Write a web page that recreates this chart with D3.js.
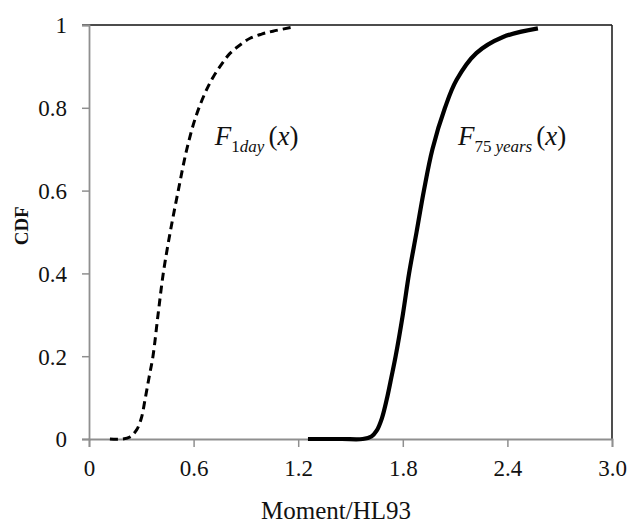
<!DOCTYPE html>
<html>
<head>
<meta charset="utf-8">
<script src="https://cdn.jsdelivr.net/npm/d3@7"></script>
<style>
  body { margin: 0; background: #fff; }
  svg { display: block; }
</style>
</head>
<body>
<svg id="chart" width="629" height="523" font-family="Liberation Serif, Times New Roman, serif"></svg>
<script>
// Tick values and labels
var xTicks = [0, 0.6, 1.2, 1.8, 2.4, 3.0];
var xTickLabels = ['0', '0.6', '1.2', '1.8', '2.4', '3.0'];
var yTicks = [0, 0.2, 0.4, 0.6, 0.8, 1];
var yTickLabels = ['0', '0.2', '0.4', '0.6', '0.8', '1'];

// F_1day(x)
var oneDayX = [0.12, 0.19, 0.235, 0.273, 0.30, 0.321, 0.345, 0.367, 0.396, 0.426, 0.466, 0.512, 0.56, 0.61, 0.665, 0.712, 0.76, 0.81, 0.87, 0.924, 0.99, 1.055, 1.17];
var oneDayY = [0, 0, 0.005, 0.022, 0.05, 0.094, 0.15, 0.2, 0.3, 0.4, 0.5, 0.6, 0.698, 0.775, 0.835, 0.874, 0.905, 0.932, 0.953, 0.968, 0.978, 0.985, 0.995];

// F_75years(x)
var yearsX = [1.256, 1.45, 1.57, 1.62, 1.65, 1.68, 1.707, 1.735, 1.759, 1.80, 1.836, 1.879, 1.921, 1.97, 2.042, 2.108, 2.222, 2.375, 2.575];
var yearsY = [0, 0, 0, 0.006, 0.02, 0.05, 0.094, 0.15, 0.2, 0.3, 0.4, 0.5, 0.6, 0.7, 0.8, 0.867, 0.932, 0.971, 0.992];

var margin = {top: 25, right: 17, bottom: 84, left: 89};
var width = 629 - margin.left - margin.right;
var height = 523 - margin.top - margin.bottom;
var serif = 'Liberation Serif, Times New Roman, serif';

var svg = d3.select('#chart');
var g = svg.append('g')
    .attr('transform', 'translate(' + margin.left + ',' + margin.top + ')');

var x = d3.scaleLinear().domain([0, 3.0]).range([0, width]);
var y = d3.scaleLinear().domain([0, 1]).range([height, 0]);

var axisGrey = '#8f8f8f';

// Frame: top and right edges are black
g.append('line')
    .attr('x1', -7).attr('x2', width)
    .attr('y1', y(1)).attr('y2', y(1))
    .style('stroke', '#111').style('stroke-width', 1.6);
g.append('line')
    .attr('x1', width).attr('x2', width)
    .attr('y1', y(1)).attr('y2', height)
    .style('stroke', '#222').style('stroke-width', 1.6);

// Axes
var xAxis = g.append('g')
    .attr('transform', 'translate(0,' + height + ')')
    .call(d3.axisBottom(x)
        .tickValues(xTicks)
        .tickFormat(function(d, i) { return xTickLabels[i]; })
        .tickSizeOuter(0)
        .tickSize(8));
var yAxis = g.append('g')
    .call(d3.axisLeft(y)
        .tickValues(yTicks)
        .tickFormat(function(d, i) { return yTickLabels[i]; })
        .tickSizeOuter(0)
        .tickSize(7));

[xAxis, yAxis].forEach(function(ax) {
  ax.attr('font-family', serif).attr('font-size', 23);
  ax.select('.domain').style('stroke', axisGrey).style('stroke-width', 1.8);
  ax.selectAll('.tick line').style('stroke', axisGrey).style('stroke-width', 1.5);
  ax.selectAll('.tick text')
      .attr('font-family', serif)
      .style('fill', '#111');
});
xAxis.selectAll('.tick text').attr('y', 37).attr('dy', null);
yAxis.selectAll('.tick text').attr('x', -22).attr('dy', '0.34em');

// Curves
var line = d3.line()
    .x(function(d) { return x(d[0]); })
    .y(function(d) { return y(d[1]); })
    .curve(d3.curveCatmullRom.alpha(0.5));

g.append('path')
    .datum(d3.zip(oneDayX, oneDayY))
    .attr('d', line)
    .style('fill', 'none')
    .style('stroke', '#000')
    .style('stroke-width', 3)
    .style('stroke-dasharray', '8,5');

g.append('path')
    .datum(d3.zip(yearsX, yearsY))
    .attr('d', line)
    .style('fill', 'none')
    .style('stroke', '#000')
    .style('stroke-width', 4.2)
    .style('stroke-linecap', 'butt');

// Curve labels
function curveLabel(px, py, sub) {
  var t = g.append('text')
      .attr('x', x(px)).attr('y', y(py))
      .attr('font-family', serif)
      .attr('font-size', 27)
      .style('fill', '#111');
  t.append('tspan').attr('font-style', 'italic').text('F');
  sub.forEach(function(s, i) {
    t.append('tspan')
        .attr('dy', i === 0 ? 7 : null)
        .attr('dx', i === 0 ? 0 : (s.gap || 0))
        .attr('font-size', 17)
        .attr('font-style', s.italic ? 'italic' : 'normal')
        .text(s.text);
  });
  t.append('tspan').attr('dy', -7).attr('dx', 4).text('(');
  t.append('tspan').attr('font-style', 'italic').text('x');
  t.append('tspan').text(')');
}
curveLabel(0.722, 0.71, [{text: '1'}, {text: 'day', italic: true}]);
curveLabel(2.116, 0.71, [{text: '75'}, {text: 'years', italic: true, gap: 4}]);

// Axis titles
svg.append('text')
    .attr('x', 336)
    .attr('y', 519)
    .attr('text-anchor', 'middle')
    .attr('font-size', 25)
    .style('fill', '#111')
    .text('Moment/HL93');

svg.append('text')
    .attr('transform', 'translate(28,' + (margin.top + height * 0.485) + ') rotate(-90)')
    .attr('text-anchor', 'middle')
    .attr('font-size', 19)
    .attr('font-weight', 'bold')
    .style('fill', '#111')
    .text('CDF');
</script>
</body>
</html>
